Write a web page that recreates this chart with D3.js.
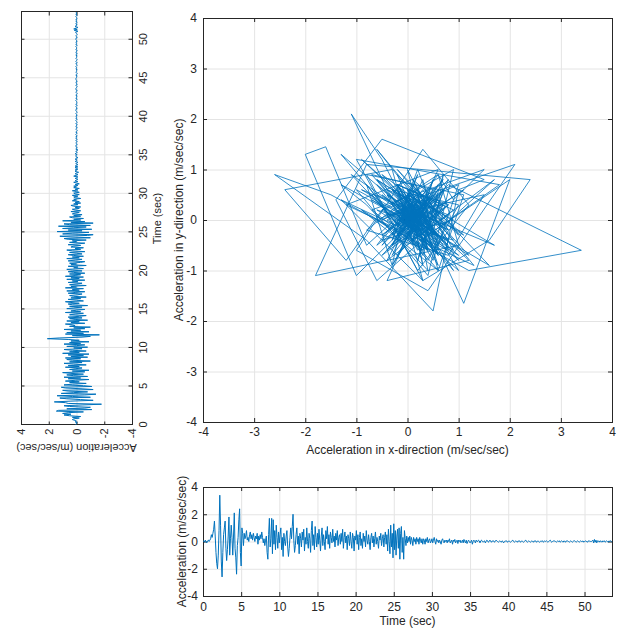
<!DOCTYPE html>
<html>
<head>
<meta charset="utf-8">
<script src="https://cdn.jsdelivr.net/npm/d3@7"></script>
<style>
  body { margin: 0; background: #fff; }
  svg text { font-family: "Liberation Sans", Arial, sans-serif; fill: #262626; }
</style>
</head>
<body>
<svg id="chart" width="619" height="628"></svg>
<script>
// sampling step of both records (sec)
const dt = 0.1;
const tMax = 53.6;

// acceleration in x-direction (m/sec/sec), one row per second
const accelX = [
  0.0, 0.05, -0.05, 0.1, 0.0, -0.1, 0.05, 0.1, 0.0, 0.1,
  0.2, 0.5, 0.3, 0.6, 0.9, 1.5, 0.4, -0.8, -1.6, -2.0,
  -1.0, 0.8, 3.4, 1.2, -1.5, -2.6, -0.8, 0.5, 1.0, 1.5,
  -0.5, -1.4, -0.6, 0.4, 1.8, -1.0, 0.2, 1.2, 0.3, -1.0,
  0.4, 2.1, -0.5, -1.2, -2.4, -0.3, 0.3, 1.6, 2.4, -0.8,
  -1.8, 1.0, 0.6, -0.3, 0.6, 0.2, 0.4, 0.8, 0.1, 0.3,
  0.0, 0.5, 0.7, 0.2, 0.5, 0.1, 0.6, 0.3, 0.0, 0.4,
  0.2, 0.6, -0.2, 0.4, 0.1, 0.5, 0.2, 0.7, 0.3, -0.1,
  0.2, -0.3, 0.1, 0.4, -0.8, -1.3, 0.5, 1.7, -0.4, 0.2,
  1.7, -0.9, 1.6, -0.2, 0.8, -0.6, 1.2, 0.3, -0.5, 0.7,
  -0.1, 0.5, 1.0, -0.6, 0.3, -1.1, 0.6, 0.0, -0.3, 0.4,
  0.8, -0.4, -1.1, -0.5, 0.3, 1.0, 0.2, 1.1, 2.0, 0.1,
  -0.8, -0.3, 0.5, 1.0, -0.2, 0.4, -0.9, 0.6, 0.2, -0.4,
  0.7, 0.1, 0.9, -0.7, 0.3, -0.2, 1.0, 0.0, -0.5, 0.6,
  0.2, -0.8, 0.8, 1.5, -0.3, 0.5, -0.6, 1.1, 0.3, -0.4,
  0.6, -0.2, 0.9, 0.1, -0.7, 0.4, 1.0, -0.3, 0.5, 0.0,
  -0.6, 0.8, 0.2, 1.1, -0.2, 0.5, -0.5, 0.7, 0.3, -0.1,
  0.9, 0.0, 0.4, -0.4, 0.6, 0.1, 0.8, -0.3, 0.3, 0.5,
  -0.2, 0.6, 0.0, 0.9, -0.5, 0.3, 0.7, -0.1, 0.4, -0.6,
  0.5, 0.2, -0.3, 0.7, 0.0, -0.5, 0.6, 0.3, -0.7, 0.4,
  0.1, 0.8, -0.2, 0.5, -0.6, 0.3, 0.7, -0.3, 0.2, -0.5,
  0.6, 0.0, 0.4, -0.4, 0.8, 0.1, -0.2, 0.5, 0.0, -0.6,
  0.3, 0.6, -0.1, 0.4, -0.4, 0.2, 0.7, -0.2, 0.3, 0.0,
  -0.5, 0.4, 0.1, 0.6, -0.3, 0.2, 0.5, -0.4, 0.3, 0.7,
  -0.2, 0.5, -0.7, 0.9, 0.0, -0.9, 1.2, -0.4, 0.6, -1.2,
  1.3, -0.6, 0.8, -1.0, 0.4, 0.9, -0.5, 1.0, -1.3, 0.6,
  1.1, -0.8, 0.3, -1.3, 0.8, 0.2, -0.3, 0.4, -0.1, 0.3,
  0.0, 0.4, -0.2, 0.3, 0.1, -0.3, 0.3, 0.0, 0.2, -0.2,
  0.3, 0.0, 0.2, -0.2, 0.3, 0.1, -0.1, 0.2, -0.2, 0.2,
  0.1, -0.2, 0.2, 0.0, 0.3, -0.1, 0.1, 0.2, -0.1, 0.0,
  0.2, -0.1, 0.1, 0.3, 0.0, -0.2, 0.2, 0.0, 0.1, -0.1,
  0.1, 0.0, -0.2, 0.1, 0.2, 0.0, -0.1, 0.1, 0.0, 0.1,
  -0.1, 0.1, 0.0, 0.2, -0.1, 0.0, 0.1, -0.2, 0.1, 0.0,
  0.15, -0.1, 0.0, 0.1, -0.15, 0.1, 0.0, 0.1, -0.1, 0.0,
  0.1, -0.1, 0.15, 0.0, -0.1, 0.1, -0.15, 0.0, 0.1, 0.0,
  -0.1, 0.0, 0.1, -0.2, 0.0, 0.1, 0.0, -0.1, 0.1, 0.0,
  0.0, 0.1, 0.05, -0.1, 0.05, 0.1, 0.0, -0.05, 0.0, 0.05,
  -0.1, 0.0, 0.1, 0.05, -0.05, 0.0, 0.1, 0.0, -0.05, 0.05,
  0.0, 0.05, -0.05, 0.0, 0.1, 0.05, 0.0, -0.05, 0.0, 0.05,
  0.0, -0.05, 0.05, 0.0, -0.1, 0.0, 0.05, 0.0, 0.05, -0.05,
  0.0, 0.05, 0.0, -0.05, 0.0, 0.05, 0.1, 0.0, -0.05, 0.0,
  0.05, 0.0, -0.05, 0.05, 0.0, 0.05, -0.05, 0.0, 0.05, 0.0,
  -0.05, 0.0, 0.05, 0.1, 0.0, -0.05, 0.0, 0.05, 0.0, -0.05,
  0.0, 0.05, 0.0, -0.05, 0.05, 0.0, 0.05, -0.05, 0.0, 0.05,
  0.0, -0.05, 0.0, 0.05, 0.0, 0.05, -0.05, 0.0, 0.05, 0.0,
  0.05, 0.0, -0.05, 0.0, 0.05, 0.1, 0.0, -0.05, 0.0, 0.05,
  0.0, 0.05, 0.0, -0.05, 0.0, 0.05, 0.0, 0.05, -0.05, 0.0,
  0.05, 0.0, -0.05, 0.05, 0.0, -0.05, 0.05, 0.0, 0.05, 0.0,
  -0.05, 0.0, 0.05, 0.0, -0.05, 0.0, 0.05, 0.05, 0.0, -0.05,
  0.0, 0.05, 0.0, -0.05, 0.0, 0.05, 0.0, 0.0, 0.05, -0.05,
  0.0, 0.05, 0.0, 0.0, -0.05, 0.05, 0.0, 0.05, 0.0, 0.0,
  0.05, 0.1, -0.1, 0.15, -0.05, 0.1, -0.1, 0.05, 0.0, 0.05,
  -0.05, 0.05, 0.0, -0.05, 0.05, 0.0, 0.05, -0.05, 0.0, 0.05,
  0.0, -0.05, 0.05, 0.0, 0.05, 0.0, 0.0
];

// acceleration in y-direction (m/sec/sec), same sampling
const accelY = [
  0.0, 0.05, 0.0, -0.05, 0.1, 0.0, 0.1, 0.3, 0.2, -0.2,
  0.3, -0.3, 0.5, 0.9, 0.4, 1.0, 0.6, -0.5, 1.45, 1.3,
  -1.1, 0.7, -0.6, -1.0, 0.5, 0.9, -0.4, -1.8, 0.6, 0.8,
  1.6, 0.4, -1.2, -0.3, 0.7, 1.2, -1.0, 0.3, 1.4, -0.6,
  -1.4, 1.1, 0.2, -0.8, 0.6, 1.0, -1.2, -0.4, 0.8, 1.1,
  -1.1, -0.5, 0.9, 0.3, -0.7, 0.5, -0.2, 0.8, 0.1, -0.9,
  0.6, -0.3, 0.9, -0.8, 0.2, 0.7, -0.5, 0.4, 1.0, -0.6,
  0.3, -0.9, 0.5, 0.1, -0.4, 0.8, -0.2, 0.6, -0.7, 0.2,
  0.9, -0.4, 0.5, -1.0, 0.3, 0.7, -0.3, 0.8, -0.8, 0.4,
  -0.5, 0.6, -0.9, 1.0, -0.2, 0.5, -0.7, 0.3, 0.9, -0.4,
  0.2, -0.8, 0.7, 0.0, -0.6, 0.9, -0.3, 0.5, -0.9, 0.4,
  -0.2, 0.6, 2.1, 1.2, -0.4, -1.0, 0.3, -1.65, 0.8, -0.5,
  0.7, -0.9, 0.4, -0.3, 0.9, -0.6, 0.2, -1.0, 0.5, 0.1,
  0.3, 0.8, -0.6, 0.4, -0.2, 0.7, -0.8, 0.1, 0.5, -0.4,
  0.6, -0.2, -0.7, 0.5, 0.1, -0.5, 0.8, -0.3, 0.4, 0.0,
  -0.6, 0.7, 0.2, -0.4, 0.5, -0.8, 0.3, 0.6, -0.2, 0.4,
  0.8, -0.5, 0.0, 0.6, -0.3, 0.4, -0.7, 0.2, 0.5, -0.1,
  -0.4, 0.6, 0.1, -0.6, 0.7, -0.2, 0.3, -0.5, 0.8, 0.0,
  0.4, -0.7, 0.5, 0.0, -0.4, 0.6, -0.1, 0.3, -0.6, 0.7,
  -0.2, 0.4, -0.5, 0.8, 0.1, -0.3, 0.5, -0.6, 0.2, 0.6,
  -0.4, 0.3, 0.7, -0.5, 0.2, -0.1, 0.6, -0.7, 0.4, 0.0,
  0.5, -0.3, -0.6, 0.6, 0.1, -0.4, 0.7, -0.2, 0.3, -0.5,
  0.2, 0.6, -0.4, 0.0, 0.5, -0.6, 0.3, 0.7, -0.3, 0.1,
  -0.5, 0.4, 0.2, -0.3, 0.6, -0.1, -0.6, 0.5, 0.0, 0.3,
  -0.7, 0.6, 0.9, -1.0, 0.4, 1.2, -0.8, -1.2, 1.0, 0.3,
  -0.9, 1.4, -0.4, 0.6, -1.1, 1.0, 0.2, -0.7, 1.3, -1.0,
  0.5, 0.9, -1.2, 0.4, -0.6, 1.0, -0.3, 0.2, -0.5, 0.3,
  0.5, -0.3, 0.2, -0.4, 0.3, 0.1, -0.2, 0.4, -0.3, 0.1,
  0.3, -0.2, 0.1, -0.3, 0.2, 0.4, -0.1, 0.2, -0.3, 0.1,
  -0.2, 0.3, 0.0, 0.2, -0.3, 0.1, 0.2, -0.1, 0.3, -0.2,
  0.1, 0.2, -0.2, 0.0, 0.3, -0.1, 0.1, -0.2, 0.2, 0.0,
  0.2, -0.1, 0.1, -0.2, 0.0, 0.2, -0.1, 0.1, 0.0, -0.1,
  0.1, 0.0, -0.1, 0.2, 0.0, -0.1, 0.1, 0.0, -0.15, 0.1,
  0.0, 0.1, -0.1, 0.0, 0.1, -0.1, 0.1, 0.0, -0.1, 0.05,
  0.0, -0.1, 0.1, 0.0, -0.05, 0.1, 0.0, -0.1, 0.05, 0.0,
  0.05, -0.05, 0.1, 0.0, -0.05, 0.05, 0.0, -0.1, 0.05, 0.0,
  -0.05, 0.05, 0.0, 0.05, -0.05, 0.0, 0.05, 0.0, -0.05, 0.05,
  0.0, -0.05, 0.05, 0.0, 0.05, -0.05, 0.0, 0.05, 0.0, -0.05,
  0.05, 0.0, -0.05, 0.0, 0.05, 0.0, -0.05, 0.05, 0.0, 0.0,
  -0.05, 0.05, 0.0, -0.05, 0.0, 0.05, 0.0, -0.05, 0.05, 0.0,
  0.0, 0.05, -0.05, 0.0, 0.05, 0.0, -0.05, 0.0, 0.05, 0.0,
  0.05, -0.05, 0.0, 0.05, 0.0, -0.05, 0.05, 0.0, -0.05, 0.0,
  0.0, 0.05, 0.0, -0.05, 0.05, 0.0, 0.0, -0.05, 0.05, 0.0,
  -0.05, 0.0, 0.05, 0.0, -0.05, 0.05, 0.0, 0.05, 0.0, -0.05,
  0.0, 0.05, -0.05, 0.0, 0.0, 0.05, -0.05, 0.0, 0.05, 0.0,
  0.05, 0.0, 0.0, -0.05, 0.05, 0.0, -0.05, 0.0, 0.05, 0.0,
  0.0, -0.05, 0.05, 0.0, 0.0, 0.05, 0.0, -0.05, 0.0, 0.05,
  -0.05, 0.0, 0.05, 0.0, -0.05, 0.0, 0.05, 0.0, 0.0, -0.05,
  0.05, 0.0, -0.05, 0.05, 0.0, 0.0, -0.05, 0.05, 0.0, 0.0,
  0.0, 0.05, 0.0, -0.05, 0.05, 0.0, 0.0, 0.05, -0.05, 0.0,
  0.05, 0.0, 0.05, -0.05, 0.0, 0.05, 0.0, -0.05, 0.0, 0.05,
  0.05, -0.1, 0.15, -0.05, 0.2, 0.0, -0.1, 0.1, 0.0, 0.05,
  -0.05, 0.05, 0.0, -0.05, 0.05, 0.0, 0.05, -0.05, 0.0, 0.0,
  0.05, 0.0, -0.05, 0.05, 0.0, 0.0, 0.05
];

const timeTicks = [0, 5, 10, 15, 20, 25, 30, 35, 40, 45, 50];
const accelTicks = [-4, -2, 0, 2, 4];
const pairTicks = [-4, -3, -2, -1, 0, 1, 2, 3, 4];

const lineColor = '#0072BD';
const axisColor = '#262626';
const gridColor = '#e4e4e4';
const fmt = d => String(d);

const svg = d3.select('#chart');

// grid + box + inward ticks on all four sides, MATLAB style
function frame(g, w, h, x, y, xVals, yVals, o) {
  const tl = o.tick;
  g.append('g')
    .attr('transform', `translate(0,${h})`)
    .call(d3.axisBottom(x).tickValues(xVals).tickSize(-h).tickFormat(''))
    .call(s => s.select('.domain').remove())
    .selectAll('line').attr('stroke', gridColor);
  g.append('g')
    .call(d3.axisLeft(y).tickValues(yVals).tickSize(-w).tickFormat(''))
    .call(s => s.select('.domain').remove())
    .selectAll('line').attr('stroke', gridColor);

  const ax = [
    g.append('g').attr('transform', `translate(0,${h})`)
      .call(d3.axisBottom(x).tickValues(xVals).tickSizeInner(-tl).tickSizeOuter(0)
        .tickPadding(o.xPad).tickFormat(fmt)),
    g.append('g')
      .call(d3.axisTop(x).tickValues(xVals).tickSizeInner(-tl).tickSizeOuter(0).tickFormat('')),
    g.append('g')
      .call(d3.axisLeft(y).tickValues(yVals).tickSizeInner(-tl).tickSizeOuter(0)
        .tickPadding(o.yPad).tickFormat(fmt)),
    g.append('g').attr('transform', `translate(${w},0)`)
      .call(d3.axisRight(y).tickValues(yVals).tickSizeInner(-tl).tickSizeOuter(0).tickFormat(''))
  ];
  ax.forEach(a => {
    a.select('.domain').remove();
    a.selectAll('line').attr('stroke', axisColor);
    a.selectAll('text').attr('font-size', o.font).attr('font-family', null).style('fill', axisColor);
    a.attr('font-family', null).attr('font-size', null);
  });

  g.append('rect')
    .attr('x', 0.5).attr('y', 0.5)
    .attr('width', w).attr('height', h)
    .attr('fill', 'none').attr('stroke', axisColor).attr('stroke-width', 1);
}

// ---- main panel: x vs y acceleration ----
const mW = 409, mH = 404;
const main = svg.append('g').attr('transform', 'translate(203,18)');
const mx = d3.scaleLinear().domain([-4, 4]).range([0, mW]);
const my = d3.scaleLinear().domain([-4, 4]).range([mH, 0]);
frame(main, mW, mH, mx, my, pairTicks, pairTicks, {tick: 4, xPad: 5, yPad: 6, font: 12});

const n = Math.min(accelX.length, accelY.length);
main.append('path')
  .datum(d3.range(n))
  .attr('fill', 'none')
  .attr('stroke', lineColor)
  .attr('stroke-width', 0.8)
  .attr('stroke-linejoin', 'round')
  .attr('d', d3.line().x(i => mx(accelX[i])).y(i => my(accelY[i])));

main.append('text')
  .attr('x', mW / 2).attr('y', 436)
  .attr('text-anchor', 'middle').attr('font-size', 12)
  .text('Acceleration in x-direction (m/sec/sec)');
main.append('text')
  .attr('transform', `translate(-20,${mH / 2}) rotate(-90)`)
  .attr('text-anchor', 'middle').attr('font-size', 12)
  .text('Acceleration in y-direction (m/sec/sec)');

// ---- bottom panel: x acceleration vs time ----
const bW = 409, bH = 109;
const bottom = svg.append('g').attr('transform', 'translate(203,487)');
const bx = d3.scaleLinear().domain([0, tMax]).range([0, bW]);
const by = d3.scaleLinear().domain([-4, 4]).range([bH, 0]);
frame(bottom, bW, bH, bx, by, timeTicks, accelTicks, {tick: 4, xPad: 6, yPad: 5, font: 12});

bottom.append('path')
  .datum(accelX)
  .attr('fill', 'none')
  .attr('stroke', lineColor)
  .attr('stroke-width', 1)
  .attr('stroke-linejoin', 'round')
  .attr('d', d3.line().x((d, i) => bx(i * dt)).y(d => by(d)));

bottom.append('text')
  .attr('x', bW / 2).attr('y', 138)
  .attr('text-anchor', 'middle').attr('font-size', 12)
  .text('Time (sec)');
bottom.append('text')
  .attr('transform', `translate(-17,${bH / 2}) rotate(-90)`)
  .attr('text-anchor', 'middle').attr('font-size', 12)
  .text('Acceleration (m/sec/sec)');

// ---- left panel: y acceleration vs time, turned on its side ----
const lW = 413, lH = 111;
const left = svg.append('g').attr('transform', 'translate(21,425) rotate(-90)');
const lx = d3.scaleLinear().domain([0, tMax]).range([0, lW]);
const ly = d3.scaleLinear().domain([-4, 4]).range([lH, 0]);
frame(left, lW, lH, lx, ly, timeTicks, accelTicks, {tick: 3.5, xPad: 7, yPad: 3.5, font: 11});

left.append('path')
  .datum(accelY)
  .attr('fill', 'none')
  .attr('stroke', lineColor)
  .attr('stroke-width', 1)
  .attr('stroke-linejoin', 'round')
  .attr('d', d3.line().x((d, i) => lx(i * dt)).y(d => ly(d)));

left.append('text')
  .attr('x', lW / 2).attr('y', lH + 29)
  .attr('text-anchor', 'middle').attr('font-size', 11)
  .text('Time (sec)');
left.append('text')
  .attr('transform', `translate(-18.5,${lH / 2}) rotate(-90)`)
  .attr('text-anchor', 'middle').attr('font-size', 11)
  .text('Acceleration (m/sec/sec)');
</script>
</body>
</html>
